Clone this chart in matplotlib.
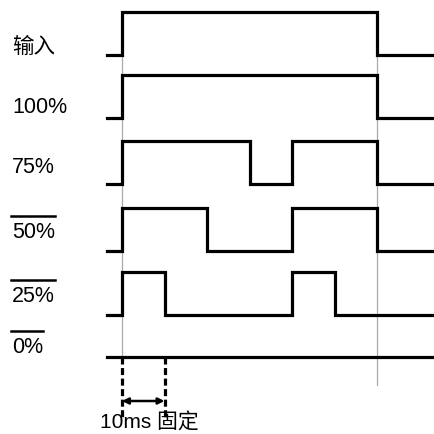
import matplotlib
matplotlib.use("Agg")
from matplotlib import pyplot as plt

# signal names and their transitions (time in units of 10 ms)
labels = ["输入", "100%", "75%", "50%", "25%", "0%"]
overlined = [False, False, False, True, True, True]
# each signal: list of (start, end) spans where the level is high
high_spans = [
    [(0, 6)],
    [(0, 6)],
    [(0, 3), (4, 6)],
    [(0, 2), (4, 6)],
    [(0, 1), (4, 5)],
    [],
]
t_start, t_end = -0.35, 7.35
marker_times = [0, 6]
fixed_span = (0, 1)
fixed_text = "10ms 固定"

# layout, in pixels
row_low = [55, 118, 184, 251, 315, 357]
pulse_h = 43.5
px0, px_unit = 122, 42.5

plt.rcParams["font.family"] = ["Liberation Sans", "Noto Sans CJK SC", "DejaVu Sans"]

fig = plt.figure(figsize=(4.34, 4.34), dpi=100)
ax = fig.add_axes([0, 0, 1, 1])
ax.set_xlim(-px0 / px_unit, (434 - px0) / px_unit)
ax.set_ylim(434, 0)
ax.axis("off")

# thin grey reference lines
ax.plot([marker_times[0]] * 2, [row_low[0], row_low[-1]], color="#aaaaaa", lw=0.9, zorder=1)
ax.plot([marker_times[1]] * 2, [row_low[0], 385], color="#aaaaaa", lw=0.9, zorder=1)

for i, spans in enumerate(high_spans):
    lo = row_low[i]
    hi = lo - pulse_h
    xs = [t_start]
    ys = [lo]
    for a, b in spans:
        xs += [a, a, b, b]
        ys += [lo, hi, hi, lo]
    xs.append(t_end)
    ys.append(lo)
    ax.plot(xs, ys, color="black", lw=2.3, solid_joinstyle="miter", zorder=3)

text_base = [53, 113, 173, 238, 302, 353]
for i, lab in enumerate(labels):
    x_lab = -110 / px_unit
    ax.text(x_lab, text_base[i], lab, fontsize=15.5, va="baseline", ha="left")
    if overlined[i]:
        w = 44 if len(lab) == 3 else 32
        ax.plot([-111 / px_unit, (11 + w - px0) / px_unit], [text_base[i] - 22] * 2,
                color="black", lw=1.8)

# dashed markers and the fixed-time arrow
for tm in fixed_span:
    ax.plot([tm, tm], [row_low[-1], 420], color="black", lw=2.3,
            linestyle=(0, (2.2, 1.1)), zorder=2)
ax.annotate("", xy=(fixed_span[0], 401), xytext=(fixed_span[1], 401),
            arrowprops=dict(arrowstyle="<|-|>", color="black", lw=1.8,
                            mutation_scale=9, shrinkA=0, shrinkB=0))
ax.text((100 - px0) / px_unit, 429, fixed_text, fontsize=15, va="baseline", ha="left")

fig.savefig("out.png", dpi=100)
plt.close(fig)
